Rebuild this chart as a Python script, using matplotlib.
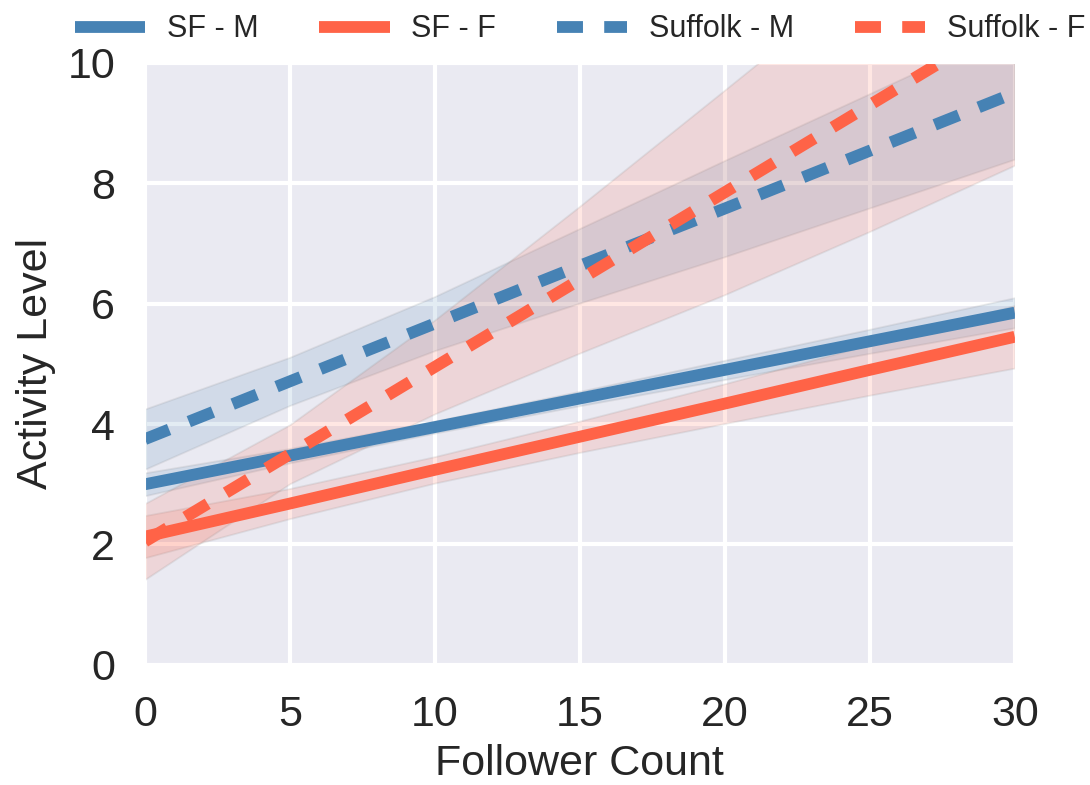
import numpy as np
import matplotlib
matplotlib.use('Agg')
import matplotlib.pyplot as plt
import seaborn as sns

sns.set_style('darkgrid')
plt.rcParams['font.family'] = ['Liberation Sans', 'DejaVu Sans']

# sample points along the x axis
x = [0, 5, 10, 15, 20, 25, 30]

# fitted lines
sf_m = [3.0, 3.475, 3.95, 4.425, 4.9, 5.375, 5.85]
sf_f = [2.13, 2.68, 3.24, 3.79, 4.34, 4.90, 5.45]
suf_m = [3.75, 4.71, 5.67, 6.63, 7.58, 8.54, 9.5]
suf_f = [2.05, 3.50, 4.95, 6.40, 7.85, 9.30, 10.75]

# confidence bands
sf_m_lo = [2.81, 3.355, 3.85, 4.305, 4.74, 5.175, 5.60]
sf_m_hi = [3.19, 3.595, 4.05, 4.545, 5.06, 5.575, 6.10]
sf_f_lo = [1.78, 2.43, 3.02, 3.53, 4.01, 4.48, 4.93]
sf_f_hi = [2.48, 2.93, 3.46, 4.05, 4.67, 5.32, 5.97]
suf_m_lo = [3.25, 4.31, 5.22, 6.01, 6.78, 7.59, 8.40]
suf_m_hi = [4.25, 5.11, 6.12, 7.25, 8.38, 9.49, 10.60]
suf_f_lo = [1.42, 3.01, 4.17, 5.18, 6.15, 7.20, 8.30]
suf_f_hi = [2.68, 3.99, 5.73, 7.62, 9.55, 11.49, 13.44]

labels = ['SF - M', 'SF - F', 'Suffolk - M', 'Suffolk - F']

blue = '#4682b4'
red = '#ff6347'

fig = plt.figure(figsize=(10.9, 7.85), dpi=100)
ax = fig.add_axes([0.133, 0.153, 0.798, 0.767])

series = [
    (sf_m, sf_m_lo, sf_m_hi, blue, '-'),
    (sf_f, sf_f_lo, sf_f_hi, red, '-'),
    (suf_m, suf_m_lo, suf_m_hi, blue, (0, (2.2, 1.8))),
    (suf_f, suf_f_lo, suf_f_hi, red, (0, (2.2, 1.8))),
]

for (y, lo, hi, c, ls), lab in zip(series, labels):
    ax.fill_between(x, lo, hi, facecolor=c, alpha=0.15, edgecolor='gray', linewidth=1.3)
    ax.plot(x, y, color=c, linestyle=ls, linewidth=8.5, label=lab, solid_capstyle='butt')

ax.set_xlim(0, 30)
ax.set_ylim(0, 10)
ax.set_xticks([0, 5, 10, 15, 20, 25, 30])
ax.set_yticks([0, 2, 4, 6, 8, 10])
ax.grid(color='white', linewidth=3)
ax.tick_params(labelsize=31, colors='#262626', pad=18)
ax.set_xlabel('Follower Count', fontsize=31, color='#262626', labelpad=7)
ax.set_ylabel('Activity Level', fontsize=31, color='#262626', labelpad=8)

ax.legend(loc='lower center', bbox_to_anchor=(0.5, 1.0), ncol=4, frameon=False,
          fontsize=22, handlelength=2.3, handletextpad=0.7, columnspacing=2.0,
          borderaxespad=0.2)

plt.savefig('out.png', dpi=100)
